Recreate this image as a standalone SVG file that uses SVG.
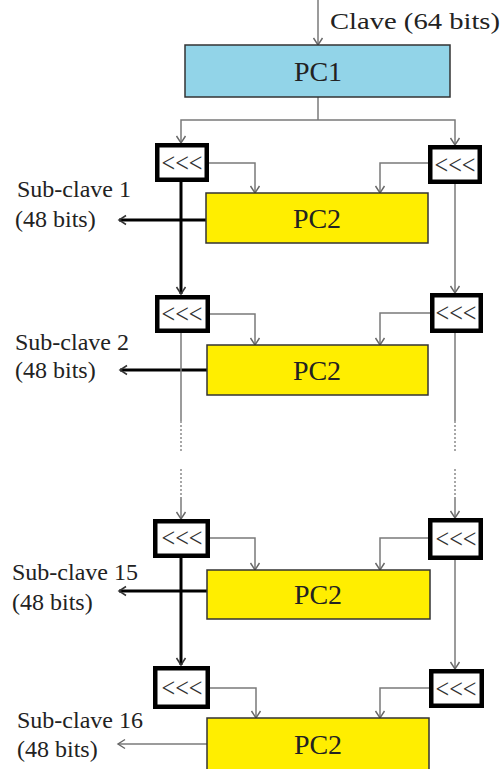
<svg xmlns="http://www.w3.org/2000/svg" width="503" height="769" viewBox="0 0 503 769">
<style>
  .t { font-family: "Liberation Serif", "Times New Roman", serif; fill: #222; }
  .lbl { font-size: 24px; }
  .pc { font-size: 28px; text-anchor: middle; }
  .sh { font-size: 27px; text-anchor: middle; fill: #333; }
  .pc1 { fill: #92D4E8; stroke: #333; stroke-width: 1.5; }
  .pc2 { fill: #FFEE00; stroke: #333; stroke-width: 1.5; }
  .rot { fill: #fff; stroke: #000; stroke-width: 4.5; }
  .g { fill: none; stroke: #7a7a7a; stroke-width: 1.5; }
  .gd { fill: none; stroke: #8a8a8a; stroke-width: 1.5; stroke-dasharray: 2 2; }
  .b { fill: none; stroke: #000; stroke-width: 3; }
</style>
<defs>
  <marker id="ag" markerWidth="12" markerHeight="12" refX="10" refY="6" orient="auto" markerUnits="userSpaceOnUse">
    <path d="M3,1.5 L10,6 L3,10.5" fill="none" stroke="#666" stroke-width="1.4"/>
  </marker>
  <marker id="ab" markerWidth="12" markerHeight="12" refX="10" refY="6" orient="auto" markerUnits="userSpaceOnUse">
    <path d="M3,1.5 L10,6 L3,10.5" fill="none" stroke="#333" stroke-width="1.5"/>
  </marker>
</defs>

<g id="connectors">
  <!-- input key -->
  <line class="g" x1="318" y1="0" x2="318" y2="45" marker-end="url(#ag)"/>
  <!-- split from PC1 -->
  <polyline class="g" points="318,97 318,120"/>
  <polyline class="g" points="318,120 181,120 181,143" marker-end="url(#ag)"/>
  <polyline class="g" points="318,120 455,120 455,145" marker-end="url(#ag)"/>

  <!-- row 1 -->
  <polyline class="g" points="209,163 255,163 255,193" marker-end="url(#ag)"/>
  <polyline class="g" points="428,163 380,163 380,193" marker-end="url(#ag)"/>
  <line class="b" x1="206" y1="220" x2="119" y2="220" marker-end="url(#ab)"/>
  <line class="b" x1="181" y1="182" x2="181" y2="294" marker-end="url(#ab)"/>
  <line class="g" x1="455" y1="184" x2="455" y2="293" marker-end="url(#ag)"/>

  <!-- row 2 -->
  <polyline class="g" points="209,314 255,314 255,345" marker-end="url(#ag)"/>
  <polyline class="g" points="430,313 380,313 380,345" marker-end="url(#ag)"/>
  <line class="b" x1="207" y1="370" x2="120" y2="370" marker-end="url(#ab)"/>
  <line class="g" x1="181" y1="333" x2="181" y2="421"/>
  <line class="gd" x1="181" y1="421" x2="181" y2="452"/>
  <line class="gd" x1="181" y1="469" x2="181" y2="497"/>
  <line class="g" x1="181" y1="497" x2="181" y2="519" marker-end="url(#ag)"/>
  <line class="g" x1="455" y1="333" x2="455" y2="421"/>
  <line class="gd" x1="455" y1="421" x2="455" y2="452"/>
  <line class="gd" x1="455" y1="469" x2="455" y2="497"/>
  <line class="g" x1="455" y1="497" x2="455" y2="518" marker-end="url(#ag)"/>

  <!-- row 3 -->
  <polyline class="g" points="209,538 255,538 255,570" marker-end="url(#ag)"/>
  <polyline class="g" points="428,538 380,538 380,570" marker-end="url(#ag)"/>
  <line class="b" x1="207" y1="591" x2="119" y2="591" marker-end="url(#ab)"/>
  <line class="b" x1="181" y1="558" x2="181" y2="665" marker-end="url(#ab)"/>
  <line class="g" x1="455" y1="560" x2="455" y2="669" marker-end="url(#ag)"/>

  <!-- row 4 -->
  <polyline class="g" points="209,688 256,688 256,718" marker-end="url(#ag)"/>
  <polyline class="g" points="429,688 380,688 380,718" marker-end="url(#ag)"/>
  <line class="g" x1="207" y1="744" x2="118" y2="744" marker-end="url(#ag)"/>
</g>

<g id="key-label">
  <text class="t lbl" x="330" y="29" textLength="170" lengthAdjust="spacingAndGlyphs">Clave (64 bits)</text>
</g>

<g id="pc1">
  <rect class="pc1" x="185" y="45" width="265" height="52"/>
  <text class="t pc" x="318" y="81">PC1</text>
</g>

<!-- row 1 -->
<g id="rotL1">
  <rect class="rot" x="157.25" y="145.25" width="49.5" height="34.5"/>
  <text class="t sh" x="182" y="172" textLength="41" lengthAdjust="spacingAndGlyphs">&lt;&lt;&lt;</text>
</g>
<g id="rotR1">
  <rect class="rot" x="430.25" y="147.25" width="49.5" height="34.5"/>
  <text class="t sh" x="455" y="174" textLength="41" lengthAdjust="spacingAndGlyphs">&lt;&lt;&lt;</text>
</g>
<g id="pc2-1">
  <rect class="pc2" x="206" y="193" width="222" height="50"/>
  <text class="t pc" x="317" y="228">PC2</text>
</g>
<g id="sub1">
  <text class="t lbl" x="17" y="197">Sub-clave 1</text>
  <text class="t lbl" x="15" y="227">(48 bits)</text>
</g>

<!-- row 2 -->
<g id="rotL2">
  <rect class="rot" x="157.25" y="297.25" width="50.5" height="33.5"/>
  <text class="t sh" x="182" y="323" textLength="41" lengthAdjust="spacingAndGlyphs">&lt;&lt;&lt;</text>
</g>
<g id="rotR2">
  <rect class="rot" x="432.25" y="295.25" width="48.5" height="35.5"/>
  <text class="t sh" x="456" y="322" textLength="41" lengthAdjust="spacingAndGlyphs">&lt;&lt;&lt;</text>
</g>
<g id="pc2-2">
  <rect class="pc2" x="207" y="345" width="221" height="50"/>
  <text class="t pc" x="317" y="380">PC2</text>
</g>
<g id="sub2">
  <text class="t lbl" x="15" y="350">Sub-clave 2</text>
  <text class="t lbl" x="15" y="378">(48 bits)</text>
</g>

<!-- row 3 -->
<g id="rotL3">
  <rect class="rot" x="155.25" y="521.25" width="52.5" height="34.5"/>
  <text class="t sh" x="182" y="547" textLength="41" lengthAdjust="spacingAndGlyphs">&lt;&lt;&lt;</text>
</g>
<g id="rotR3">
  <rect class="rot" x="430.25" y="520.25" width="50.5" height="37.5"/>
  <text class="t sh" x="456" y="548" textLength="41" lengthAdjust="spacingAndGlyphs">&lt;&lt;&lt;</text>
</g>
<g id="pc2-3">
  <rect class="pc2" x="207" y="570" width="223" height="49"/>
  <text class="t pc" x="318" y="604">PC2</text>
</g>
<g id="sub15">
  <text class="t lbl" x="12" y="580">Sub-clave 15</text>
  <text class="t lbl" x="12" y="610">(48 bits)</text>
</g>

<!-- row 4 -->
<g id="rotL4">
  <rect class="rot" x="155.25" y="668.25" width="52.5" height="38.5"/>
  <text class="t sh" x="182" y="697" textLength="41" lengthAdjust="spacingAndGlyphs">&lt;&lt;&lt;</text>
</g>
<g id="rotR4">
  <rect class="rot" x="431.25" y="671.25" width="50.5" height="34.5"/>
  <text class="t sh" x="456" y="698" textLength="41" lengthAdjust="spacingAndGlyphs">&lt;&lt;&lt;</text>
</g>
<g id="pc2-4">
  <rect class="pc2" x="207" y="718" width="222" height="60"/>
  <text class="t pc" x="318" y="754">PC2</text>
</g>
<g id="sub16">
  <text class="t lbl" x="17" y="728">Sub-clave 16</text>
  <text class="t lbl" x="17" y="757">(48 bits)</text>
</g>
</svg>
